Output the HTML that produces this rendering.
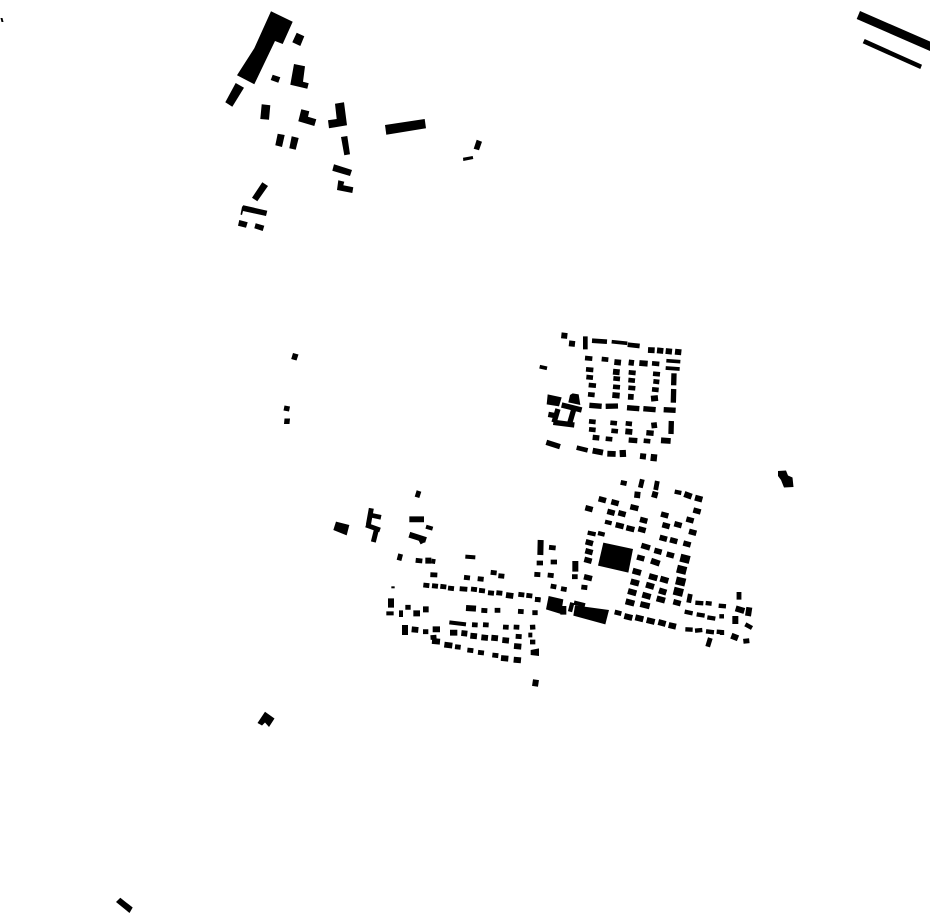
<!DOCTYPE html>
<html lang="en"><head><meta charset="utf-8"><title>Figure-ground plan</title>
<style>html,body{margin:0;padding:0;background:#fff;width:930px;height:924px;overflow:hidden}svg{display:block}path{fill:none;stroke:#000}polygon{fill:#000}</style></head>
<body>
<svg width="930" height="924" viewBox="0 0 930 924" xmlns="http://www.w3.org/2000/svg">
<polygon points="271,11.3 292.7,21.7 282.7,44 275,41 254.3,84.3 237,75.3 254.3,48.3"/>
<polygon points="296.7,32.7 304.3,36.3 300.3,46 292.3,42.3"/>
<polygon points="235.7,83 244,87.7 232.3,106.7 225.3,102.3"/>
<polygon points="272.7,74.7 280.3,77.3 278.3,82.7 270.7,80"/>
<polygon points="294,64 305,66.3 303,81.7 308.7,83.3 307.3,88.7 290.3,84.7"/>
<polygon points="261.7,104.3 270.3,105.3 269,119.7 260.3,119"/>
<polygon points="301.3,109.3 309.3,111.3 308,116.7 316.3,119.3 314.3,126 298.3,121.3"/>
<polygon points="277.7,133.7 284.7,135 282,147 275.3,145.3"/>
<polygon points="291.7,136.3 298.7,138 295.7,149.7 289.3,148.3"/>
<polygon points="335,103.7 344,102.3 347,125.3 329,128.3 328,120.3 336.7,119"/>
<polygon points="341,137 347.3,136 350,154.3 344.3,155.3"/>
<polygon points="334,164.3 352,170 350,176 332.3,170.7"/>
<polygon points="338.3,180.3 344.3,181.7 343.3,185.3 353.3,187.3 352.3,193 337,190"/>
<polygon points="385,125 424.7,119 426,128.3 386.3,134.7"/>
<polygon points="476.7,139.7 482,141.7 479,150.3 473.7,148.7"/>
<polygon points="463,157.7 472.7,156 473.3,159 463.3,161"/>
<polygon points="262.3,182.3 268,186 257.3,201.3 252,197.7"/>
<polygon points="243.3,205.3 267.3,210.7 266,216 243,211 242,215 240.5,214.5 242,207"/>
<polygon points="239.3,220 247.7,222.3 246,227.7 238,225.7"/>
<polygon points="255.7,223.3 264.3,225.7 262.7,231 254.3,228.3"/>
<polygon points="860,11 930,41.5 930,51 856.7,19"/>
<polygon points="864.7,39 922,64.8 920.3,69 862.7,43.3"/>
<polygon points="778,471 786,470.5 788,475.5 792.5,477.5 793.5,487 784,487.5 781,480 778,476"/>
<polygon points="265,711.7 274.5,718.5 269,727 265,722.5 262,725.5 257.5,723"/>
<polygon points="120.3,897.8 132.7,907.5 129.5,913 116,902"/>
<polygon points="293,353 298.5,354.5 296.5,360.5 291.2,359"/>
<polygon points="284.5,405.5 290,406.5 289,411.5 283.5,410.5"/>
<polygon points="284.5,418.5 290,418.5 289.5,424 284,424"/>
<polygon points="0.5,18 2.5,18 3.5,22 1.5,22"/>

<!-- north block -->
<g transform="translate(530 325) scale(.33333)">
<path stroke-width="14" d="M165 99l22 2M215 102l20 2M366 115l22 2M168 133l22 2M296 142l21 2M369 146l21 2M169 156l20 2M250 160l20 2M295 165l20 2M370 169l18 2M176 180l22 2M249 185l21 2M295 188l21 2M366 193l20 2M174 208l20 2M177 289l20 2M241 293l20 2M287 295l19 2M177 313l20 2M244 317l20 2M227 341l20 2M341 347l20 2M140 368l33 8M186 47l45 3M293 59l36 4M166 34v39"/>
<path stroke-width="16" d="M178 241l37 3M227 244l37-1M291 248l37 3M340 251l37 3M401 254l36 2M188 337l20 2M349 323l22 2M296 345l26 2M432 145l-1 36M431 192l-1 41M424 288l-1 39"/>
<path stroke-width="17.5" d="M94 31l18 2M117 55l18 2M354 75l20 1M381 76l19 2M407 78l19 2M435 80l19 2M253 111l20 2M296 112l16 2M328 114l25 2M249 140l20 2M247 210l22 2M294 215l17 1M363 221l21-2M364 302l17-2M286 319l21 2M393 346l29 2M330 393l18 2M232 386l25 1M188 377l31 6"/>
<path stroke-width="21" d="M269 386l19-1M362 397l19 2"/>
<path stroke-width="11" d="M245 50l47 5M409 107l42 3M407 129l42 3M29 125l22 5"/>
<path stroke-width="16" d="M49 352l41 13M95 240l60 15M133 247l-14 48M84 252l-12 40M70 292l63 8M55 268l20 4"/>
<polygon points="53,208 95,217 87,244 50,238"/>
<polygon points="120,210 128,205 146,208 151,240 115,232"/>
</g>

<!-- south-east block -->
<g transform="translate(530 470) scale(.33333)">
<polygon points="220,218 309,237 295,308 204,287"/>
<polygon points="56,378 100,388 93,432 48,418"/>
<polygon points="135,406 237,420 226,463 130,437"/>
<polygon points="2,540 27,535 27,558 2,555"/>
<path stroke-width="16.5" d="M206 86l22 6M244 95l22 6M166 113l22 6M301 110l24 6M232 124l22 6M265 128l22 6M393 132l22 6M490 120l22 6M330 148l22 6M469 147l22 6M257 164l24 6M289 173l24 6M325 176l22 6M397 164l22 6M433 161l22 6M477 184l22 6M389 202l22 6M420 209l22 6M460 219l22 6M167 215l22 6M166 242l22 6M163 268l22 6M373 241l22 6M410 252l22 6M321 261l22 6M334 226l26 8M162 320l24 6M430 395l22 6"/>
<path stroke-width="14.5" d="M272 37l18 4M57 232l20 2M20 279l19 0M62 276l19 0M13 313l18 1M53 315l18 2M126 320l17 0M154 351l18 2M62 348l17 3M93 356l17 3M15 388l16 1M7 428l16 0M0 472l16-1M0 516l16 0M337 28l-6 25M382 33l-5 27M481 372l-5 26M541 504l-8 26M627 366v23M254 426l20 5M640 514l18-2"/>
<path stroke-width="18" d="M463 72l22 8M495 83l22 6M323 65l-2 19M377 65l-5 18M32 210l-1 45M136 273v32M100 408v26M308 302l25 7M357 318l25 7M391 326l24 7M302 334l25 7M348 344l24 7M294 363l25 7M337 374l25 7M387 361l22 7M380 385l25 7M283 438l24 6M316 442l24 6M350 450l24 6M385 456l22 6M416 465l22 5M287 394l26 7M331 402l28 7M617 415l26 8M658 412l-4 26M616 438v24M604 497l20 8M363 272l26 9"/>
<path stroke-width="13" d="M127 398l-7 27M132 398l33 8M496 398l24 2M527 399l18 2M566 407l22 2M464 425l24 5M500 433l24 4M532 442l24 4M466 478l22 1M495 482l22-2M528 484l24 3M560 485l22 2M576 481v14M568 439l14 0M646 463l20 11M173 188l24 5M204 189l20 5M225 155l20 5M434 65l20 4"/>
<path stroke-width="24" d="M451 263l28 7M441 296l28 7M438 331l28 7M431 362l28 7"/>
</g>

<!-- south-west block -->
<g transform="translate(330 480) scale(.33333)">
<polygon points="10,150 18,125 58,135 50,166"/>
<path stroke-width="15" d="M124 85l-9 50M139 150l-9 36"/>
<path stroke-width="14" d="M120 105l33 7M108 135l42 15"/>
<path stroke-width="17.5" d="M238 164l50 16M238 118h44M245 448l20 2M308 448l22 0M306 483l24 2M343 494l24 3M360 458l22 0M394 459l18 2M421 467l20 2M454 472l20 2M484 473l20 2M517 480l20 2M552 498l22 2M513 534l22 2M551 539l22 2M528 345l22 3"/>
<path stroke-width="14.5" d="M267 33l-6 19M212 222l-5 19M257 241l20 2M304 243l12 2M301 284l21 1M402 292l18 2M443 296l18 2M482 277l18 2M505 287l18 2M280 315l18 2M306 317l18 2M331 319l18 2M354 324l18 2M389 326l23 2M423 327l18 2M447 331l18 2M474 338l18 2M499 338l18 2M565 343l18 2M589 346l18 2M615 358l17 2M426 434l17 1M459 434l17 1M519 441l17 1M551 441l17 1M557 469l18 1M375 500l17 2M412 510l18 2M444 517l18 2M487 525l18 2M279 455l16 0M454 391l18 1M494 391l17 0M564 394l17 1M226 382h16"/>
<path stroke-width="18" d="M286 242l18 0M279 388h17M250 400l20 0M408 384l30 2M310 465l1 14M183 355v28M225 435v30M618 599l-3 20"/>
<path stroke-width="12" d="M406 230l30 2M288 140l20 6M169 400h22M213 391v20M358 427l50 6M601 458v14"/>
<path stroke-width="6" d="M184 322h10"/>
<path stroke-width="14" d="M272 178l6 12"/>
</g>
</svg>
</body></html>
